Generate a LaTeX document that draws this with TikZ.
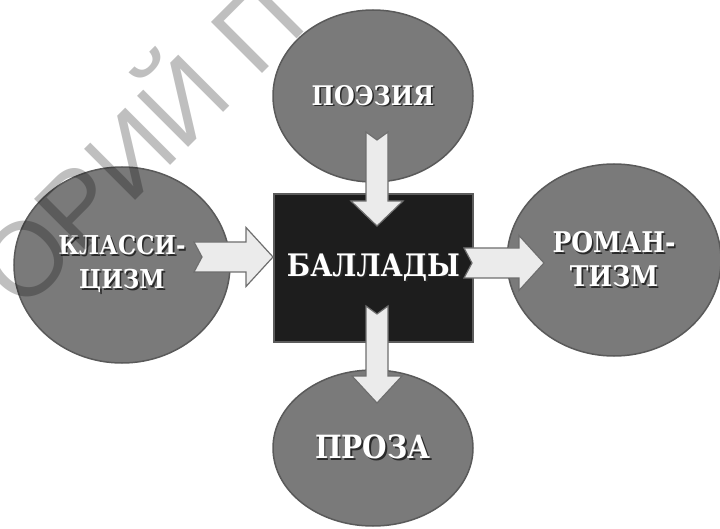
\documentclass[tikz,border=0pt]{standalone}
\usepackage{fontspec}
\newfontfamily\labelfont[FakeStretch=0.88]{DejaVu Serif}
\newfontfamily\markfont{Liberation Sans}
\usetikzlibrary{positioning}
\usetikzlibrary{calc}
\usetikzlibrary{shapes.geometric}
\definecolor{bubblefill}{HTML}{7A7A7A}
\definecolor{bubbleline}{HTML}{5A5A5A}
\definecolor{corefill}{HTML}{1D1D1D}
\definecolor{coreline}{HTML}{5C5C5C}
\definecolor{arrfill}{HTML}{EBEBEB}
\definecolor{arrline}{HTML}{6E6E6E}
\definecolor{shadowc}{HTML}{2A2A2A}
\newcommand{\shtext}[1]{\rlap{\kern1.6pt\raisebox{-1.6pt}{\color{shadowc}#1}}#1}
\newcommand{\lblsize}[1]{\labelfont\bfseries\fontsize{#1}{34}\selectfont}
\tikzset{
  bubble/.style={ellipse, fill=bubblefill, draw=bubbleline, line width=1.5pt,
    text=white, align=center, inner sep=0pt, font=\lblsize{26}},
  core/.style={rectangle, fill=corefill, draw=coreline, line width=2pt,
    text=white, font=\lblsize{31}},
  fatarr/.style n args={3}{fill=arrfill, draw=arrline, line width=1.2pt, line join=miter,
    to path={let \p1=(\tikztostart), \p2=(\tikztotarget), \p3=($(\p2)!#3!(\p1)$) in
      ($(\p1)!#1!90:(\p2)$) -- ($(\p3)!#1!90:(\p2)$) -- ($(\p3)!#2!90:(\p2)$) -- (\p2)
      -- ($(\p3)!#2!-90:(\p2)$) -- ($(\p3)!#1!-90:(\p2)$) -- ($(\p1)!#1!-90:(\p2)$)
      -- ($(\p1)!8pt!(\p2)$) -- cycle}}
}
\begin{document}
\begin{tikzpicture}[x=1pt,y=1pt]
 \useasboundingbox (0,0) rectangle (720,528);
 \node[bubble, minimum width=200pt, minimum height=172pt, font=\lblsize{27}] (poe) at (373,432) {\shtext{ПОЭЗИЯ}};
 \node[bubble, minimum width=216pt, minimum height=196pt] (klass) at (122,263) {\shtext{КЛАССИ-}\\\shtext{ЦИЗМ}};
 \node[bubble, minimum width=214pt, minimum height=192pt, font=\lblsize{28.5}] (roman) at (614,268) {\shtext{РОМАН-}\\\shtext{ТИЗМ}};
 \node[bubble, minimum width=200pt, minimum height=156pt, font=\lblsize{32}] (proza) at (373,80) {\shtext{ПРОЗА}};
 \node[core, minimum width=199pt, minimum height=148pt] (bal) at (373.5,260) {\shtext{БАЛЛАДЫ}};
 \coordinate (kl0) at ($(bal.west)+(-79,11)$);
 \coordinate (kl1) at ($(bal.west)+(0,11)$);
 \coordinate (ro0) at ($(bal.east)+(-10,5)$);
 \coordinate (ro1) at ($(bal.east)+(70,5)$);
 \coordinate (po0) at ($(bal.north)+(3.5,61)$);
 \coordinate (po1) at ($(bal.north)+(3.5,-33)$);
 \coordinate (pr0) at ($(bal.south)+(3.5,37)$);
 \coordinate (pr1) at ($(bal.south)+(3.5,-60)$);
 \draw[fatarr={15pt}{29.5pt}{27pt}] (kl0) to (kl1);
 \draw[fatarr={15pt}{27.5pt}{25pt}] (ro0) to (ro1);
 \draw[fatarr={11pt}{26pt}{25pt}] (po0) to (po1);
 \draw[fatarr={11pt}{25pt}{27pt}] (pr0) to (pr1);
 \begin{scope}
  \clip (0,0) rectangle (720,528);
  \node[rotate=45, anchor=base west, inner sep=0pt, text=black, opacity=0.25,
    font=\markfont\fontsize{105}{110}\selectfont] (mark) at (22,214) {ОРИЙ П};
 \end{scope}
\end{tikzpicture}
\end{document}
